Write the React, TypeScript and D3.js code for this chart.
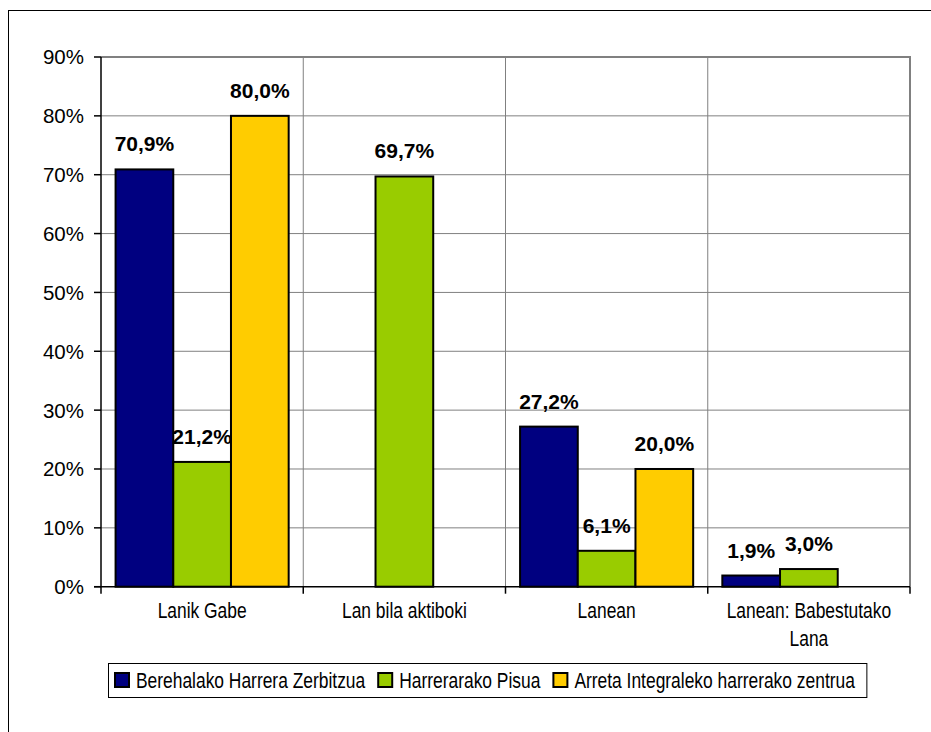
import React, { useEffect, useRef } from "react";
import * as d3 from "d3";

const categories = ["Lanik Gabe", "Lan bila aktiboki", "Lanean", "Lanean: Babestutako Lana"];
const seriesNames = ["Berehalako Harrera Zerbitzua", "Harrerarako Pisua", "Arreta Integraleko harrerako zentrua"];
const berehalako: (number | null)[] = [70.9, null, 27.2, 1.9];
const harrerarako: (number | null)[] = [21.2, 69.7, 6.1, 3.0];
const arreta: (number | null)[] = [80.0, null, 20.0, null];
const seriesColors = ["#000080", "#99CC00", "#FFCC00"];
const yTicks = [0, 10, 20, 30, 40, 50, 60, 70, 80, 90];

const fmt = (v: number) => v.toFixed(1).replace(".", ",") + "%";

export default function App() {
  const ref = useRef<SVGSVGElement | null>(null);

  useEffect(() => {
    const svg = d3.select(ref.current);
    svg.selectAll("*").remove();

    const left = 101, right = 910, top = 57, bottom = 586.7;
    const NARROW = 0.81;
    const FONT = "'Liberation Sans', Arial, sans-serif";

    svg.append("rect").attr("x", 8.5).attr("y", 10.5).attr("width", 1000).attr("height", 1000)
      .attr("fill", "#fff").attr("stroke", "#000").attr("stroke-width", 1);

    const x0 = d3.scaleBand<string>().domain(categories).range([left, right]).paddingInner(0).paddingOuter(0);
    const x1 = d3.scaleBand<string>().domain(seriesNames).range([0, x0.bandwidth()]).paddingInner(0).paddingOuter(0.2526);
    const y = d3.scaleLinear().domain([0, 90]).range([bottom, top]);

    const g = svg.append("g");
    g.append("rect").attr("x", left).attr("y", top).attr("width", right - left).attr("height", bottom - top).attr("fill", "#fff");

    g.selectAll(".hgrid").data(yTicks.filter(t => t > 0 && t < 90)).enter().append("line")
      .attr("x1", left).attr("x2", right).attr("y1", d => y(d)).attr("y2", d => y(d))
      .attr("stroke", "#808080").attr("stroke-width", 1);
    const bounds = categories.map(c => x0(c) as number).concat([right]);
    g.selectAll(".vgrid").data(bounds.slice(1, -1)).enter().append("line")
      .attr("x1", d => d).attr("x2", d => d).attr("y1", top).attr("y2", bottom)
      .attr("stroke", "#808080").attr("stroke-width", 1);
    g.append("path").attr("d", `M${left},${top}H${right}V${bottom}`).attr("fill", "none")
      .attr("stroke", "#808080").attr("stroke-width", 2);

    const series = [berehalako, harrerarako, arreta];
    series.forEach((vals, si) => {
      vals.forEach((v, ci) => {
        if (v == null) return;
        const bx = (x0(categories[ci]) as number) + (x1(seriesNames[si]) as number);
        const bw = x1.bandwidth();
        g.append("rect").attr("x", bx).attr("y", y(v)).attr("width", bw).attr("height", y(0) - y(v))
          .attr("fill", seriesColors[si]).attr("stroke", "#000").attr("stroke-width", 2);
      });
    });
    series.forEach((vals, si) => {
      vals.forEach((v, ci) => {
        if (v == null) return;
        const cx = (x0(categories[ci]) as number) + (x1(seriesNames[si]) as number) + x1.bandwidth() / 2;
        g.append("text").attr("x", cx).attr("y", y(v) - 18).attr("text-anchor", "middle")
          .attr("font-family", FONT).attr("font-weight", "bold").attr("font-size", 21).attr("fill", "#000")
          .text(fmt(v));
      });
    });

    g.append("line").attr("x1", left).attr("x2", left).attr("y1", top).attr("y2", bottom)
      .attr("stroke", "#000").attr("stroke-width", 1.5);
    g.append("line").attr("x1", left - 7).attr("x2", right).attr("y1", bottom).attr("y2", bottom)
      .attr("stroke", "#000").attr("stroke-width", 1.5);
    g.selectAll(".ytick").data(yTicks).enter().append("line")
      .attr("x1", left - 7).attr("x2", left).attr("y1", d => y(d)).attr("y2", d => y(d))
      .attr("stroke", "#000").attr("stroke-width", 1.5);
    g.selectAll(".ylab").data(yTicks).enter().append("text")
      .attr("x", 84).attr("y", d => y(d)).attr("dy", "0.36em").attr("text-anchor", "end")
      .attr("font-family", FONT).attr("font-size", 20.5).attr("fill", "#000")
      .text(d => d + "%");
    g.selectAll(".xtick").data(bounds).enter().append("line")
      .attr("x1", d => d).attr("x2", d => d).attr("y1", bottom).attr("y2", bottom + 7)
      .attr("stroke", "#000").attr("stroke-width", 1.5);

    const fs = 21.5;
    categories.forEach(c => {
      const cx = (x0(c) as number) + x0.bandwidth() / 2;
      const words = c.split(" ");
      const lines: string[] = [];
      let cur = "";
      const probe = g.append("text").attr("font-family", FONT).attr("font-size", fs);
      const maxW = x0.bandwidth() - 20;
      words.forEach(w => {
        const t = cur ? cur + " " + w : w;
        probe.text(t);
        const wd = (probe.node() as SVGTextElement).getComputedTextLength() * NARROW;
        if (wd > maxW && cur) { lines.push(cur); cur = w; } else cur = t;
      });
      if (cur) lines.push(cur);
      probe.remove();
      lines.forEach((ln, i) => {
        g.append("text").attr("transform", `translate(${cx},${618 + i * 28}) scale(${NARROW},1)`)
          .attr("text-anchor", "middle").attr("font-family", FONT).attr("font-size", fs).attr("fill", "#000")
          .text(ln);
      });
    });

    const lg = svg.append("g");
    const box = lg.append("rect").attr("x", 108.5).attr("y", 663.5).attr("height", 34)
      .attr("fill", "#fff").attr("stroke", "#000").attr("stroke-width", 1);
    let lx = 115;
    seriesNames.forEach((s, i) => {
      lg.append("rect").attr("x", lx).attr("y", 673).attr("width", 14).attr("height", 14)
        .attr("fill", seriesColors[i]).attr("stroke", "#000").attr("stroke-width", 2);
      const t = lg.append("text").attr("transform", `translate(${lx + 21},688) scale(${NARROW},1)`)
        .attr("font-family", FONT).attr("font-size", fs).attr("fill", "#000").text(s);
      const w = (t.node() as SVGTextElement).getComputedTextLength() * NARROW;
      lx = lx + 21 + w + (i < seriesNames.length - 1 ? 13 : 12);
    });
    box.attr("width", lx - 108.5);
  }, []);

  return (
    <svg ref={ref} width={931} height={732} style={{ position: "absolute", left: 0, top: 0, background: "#fff" }} />
  );
}
